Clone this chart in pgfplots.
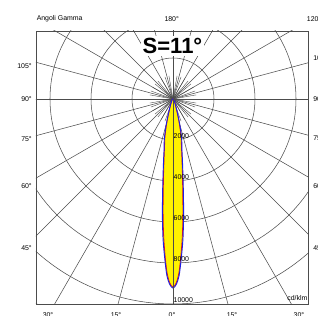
\documentclass[border=0pt]{standalone}
\usepackage{fontspec}
\setmainfont{Liberation Sans}
\usepackage{pgfplots}
\pgfplotsset{compat=1.18}
\definecolor{gridc}{gray}{0.3}
\definecolor{curveblue}{RGB}{30,30,230}
\definecolor{curvered}{RGB}{230,20,20}
\newcommand\lbl{\fontsize{5.2}{6}\selectfont}
\begin{document}
\begin{tikzpicture}
\useasboundingbox (-27pt,-9pt) rectangle (211.5pt,228pt);
\clip (-27pt,-9pt) rectangle (211.5pt,228pt);
\begin{axis}[at={(0pt,0pt)}, anchor=south west, scale only axis,
  width=204pt, height=204.75pt,
  xmin=-6683, xmax=6585, ymin=-10000, ymax=3317,
  xtick=\empty, ytick=\empty,
  axis line style={gridc, line width=0.45pt},
  clip=true,
  after end axis/.code={
    \node[anchor=west, font=\lbl, inner sep=0] at (axis cs:-6659,3902) {Angoli Gamma};
    \node[anchor=center, font=\lbl, inner sep=0] at (axis cs:-63,3902) {180°};
    \node[anchor=west, font=\lbl, inner sep=0] at (axis cs:6522,3902) {120°};
    \node[anchor=east, font=\lbl, inner sep=0] at (axis cs:-6878,1610) {105°};
    \node[anchor=east, font=\lbl, inner sep=0] at (axis cs:-6878,0) {90°};
    \node[anchor=east, font=\lbl, inner sep=0] at (axis cs:-6878,-1951) {75°};
    \node[anchor=east, font=\lbl, inner sep=0] at (axis cs:-6878,-4244) {60°};
    \node[anchor=east, font=\lbl, inner sep=0] at (axis cs:-6878,-7268) {45°};
    \node[anchor=west, font=\lbl, inner sep=0] at (axis cs:6829,2000) {105°};
    \node[anchor=west, font=\lbl, inner sep=0] at (axis cs:6829,0) {90°};
    \node[anchor=west, font=\lbl, inner sep=0] at (axis cs:6829,-1902) {75°};
    \node[anchor=west, font=\lbl, inner sep=0] at (axis cs:6829,-4244) {60°};
    \node[anchor=west, font=\lbl, inner sep=0] at (axis cs:6829,-7268) {45°};
    \node[anchor=north, font=\lbl, inner sep=0] at (axis cs:-6098,-10415) {30°};
    \node[anchor=north, font=\lbl, inner sep=0] at (axis cs:-2780,-10415) {15°};
    \node[anchor=north, font=\lbl, inner sep=0] at (axis cs:-49,-10415) {0°};
    \node[anchor=north, font=\lbl, inner sep=0] at (axis cs:2878,-10415) {15°};
    \node[anchor=north, font=\lbl, inner sep=0] at (axis cs:6146,-10415) {30°};
    \node[anchor=east, font=\lbl, inner sep=0] at (axis cs:6571,-9707) {cd/klm};
    \node[anchor=base west, font=\lbl, inner sep=0] at (axis cs:20,-1950) {2000};
    \node[anchor=base west, font=\lbl, inner sep=0] at (axis cs:20,-3950) {4000};
    \node[anchor=base west, font=\lbl, inner sep=0] at (axis cs:20,-5950) {6000};
    \node[anchor=base west, font=\lbl, inner sep=0] at (axis cs:20,-7950) {8000};
    \node[anchor=base west, font=\lbl, inner sep=0] at (axis cs:20,-9950) {10000};
    \node[anchor=base, fill=white, inner sep=1.5pt, font=\fontsize{16.5}{18}\bfseries\selectfont] at (axis cs:-24,2220) {S=11°};
  }]
\pgfplotsinvokeforeach{2000,4000,6000,8000,10000,12000,14000}{
  \draw[gridc, line width=0.4pt] (axis cs:0,0) circle[radius=#1];
}
\pgfplotsinvokeforeach{0,15,...,345}{
  \draw[gridc, line width=0.4pt] (axis cs:0,0) -- (axis cs:{20000*cos(#1)},{20000*sin(#1)});
}
\pgfplotsinvokeforeach{0,10,...,350}{
  \draw[gridc, line width=0.3pt] (axis cs:0,0) -- (axis cs:{1150*cos(#1)},{1150*sin(#1)});
}
% fill (C90-270, outer)
\addplot[fill=yellow, draw=none, smooth, data cs=polar] coordinates {
 (180,0) (210,20) (230,60) (240,150) (245,250) (250,450) (252,650) (254,1000)
 (256,1500) (258,2050) (260,2500) (261,2900) (262,3400) (263,4050) (264,4900)
 (265,5900) (266,6900) (267,7750) (268,8600) (269,9050) (270,9220)
 (271,9050) (272,8600) (273,7750) (274,6900) (275,5900) (276,4900) (277,4050)
 (278,3400) (279,2900) (280,2500) (282,2050) (284,1500) (286,1000) (288,650)
 (290,450) (295,250) (300,150) (310,60) (330,20) (360,0)
};
% red curve (C0-180)
\addplot[curvered, line width=0.6pt, smooth, data cs=polar] coordinates {
 (180,0) (210,18) (230,55) (240,140) (245,230) (250,420) (252,600) (254,900)
 (256,1350) (258,1900) (260,2380) (261,2750) (262,3200) (263,3800) (264,4550)
 (265,5550) (266,6600) (267,7550) (268,8450) (269,8980) (270,9170)
 (271,8980) (272,8450) (273,7550) (274,6600) (275,5550) (276,4550) (277,3800)
 (278,3200) (279,2750) (280,2380) (282,1900) (284,1350) (286,900) (288,600)
 (290,420) (295,230) (300,140) (310,55) (330,18) (360,0)
};
% blue curve (C90-270)
\addplot[curveblue, line width=0.7pt, smooth, data cs=polar] coordinates {
 (180,0) (210,20) (230,60) (240,150) (245,250) (250,450) (252,650) (254,1000)
 (256,1500) (258,2050) (260,2500) (261,2900) (262,3400) (263,4050) (264,4900)
 (265,5900) (266,6900) (267,7750) (268,8600) (269,9050) (270,9220)
 (271,9050) (272,8600) (273,7750) (274,6900) (275,5900) (276,4900) (277,4050)
 (278,3400) (279,2900) (280,2500) (282,2050) (284,1500) (286,1000) (288,650)
 (290,450) (295,250) (300,150) (310,60) (330,20) (360,0)
};
\draw[gridc, line width=0.4pt] (axis cs:0,0) -- (axis cs:0,-10000);
\end{axis}
\end{tikzpicture}
\end{document}
